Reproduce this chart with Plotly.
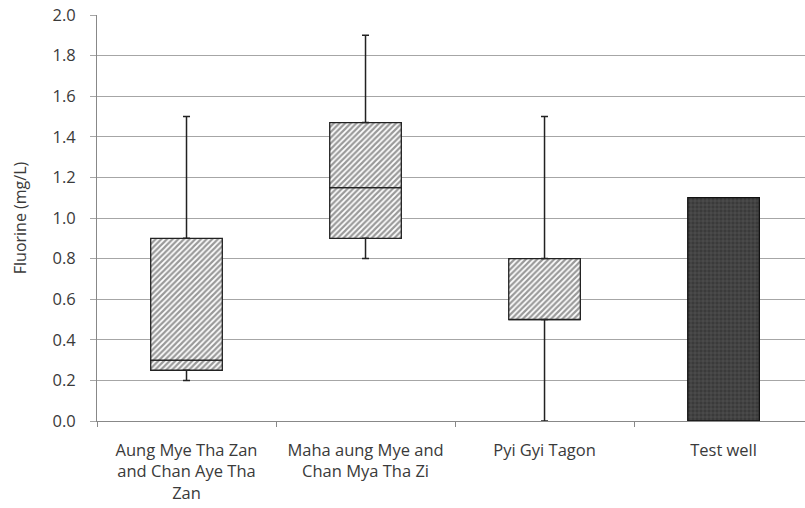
import plotly.graph_objects as go

categories = ["Aung Mye Tha Zan<br>and Chan Aye Tha<br>Zan",
              "Maha aung Mye and<br>Chan Mya Tha Zi",
              "Pyi Gyi Tagon",
              "Test well"]
box_cats = categories[:3]
mins = [0.2, 0.8, 0.0]
q1 = [0.25, 0.9, 0.5]
medians = [0.3, 1.15, 0.5]
q3 = [0.9, 1.47, 0.8]
maxs = [1.5, 1.9, 1.5]
test_well_value = [1.1]
y_ticks = [0.0, 0.2, 0.4, 0.6, 0.8, 1.0, 1.2, 1.4, 1.6, 1.8, 2.0]

font = "Open Sans"
txt = "#3a3a3a"
fig = go.Figure()

hatch = dict(shape="/", fgcolor="#333333", bgcolor="white", size=4, solidity=0.55, fillmode="overlay")
edge = dict(color="#222", width=1.3)

# upper whiskers
fig.add_trace(go.Scatter(
    x=box_cats, y=q3, mode="markers",
    marker=dict(size=1, color="rgba(0,0,0,0)"),
    error_y=dict(type="data", array=[b - a for a, b in zip(q3, maxs)], arrayminus=[0]*3,
                 color="#222", thickness=1.5, width=3.5),
    showlegend=False, hoverinfo="skip"))
# lower whiskers
fig.add_trace(go.Scatter(
    x=box_cats, y=q1, mode="markers",
    marker=dict(size=1, color="rgba(0,0,0,0)"),
    error_y=dict(type="data", array=[0]*3, arrayminus=[a - b for a, b in zip(q1, mins)],
                 color="#222", thickness=1.5, width=3.5),
    showlegend=False, hoverinfo="skip"))

# lower box half
fig.add_trace(go.Bar(
    x=box_cats, base=q1, y=[m - a for a, m in zip(q1, medians)], width=0.4,
    marker=dict(color="white", pattern=hatch, line=edge),
    showlegend=False))
# upper box half
fig.add_trace(go.Bar(
    x=box_cats, base=medians, y=[b - m for m, b in zip(medians, q3)], width=0.4,
    marker=dict(color="white", pattern=hatch, line=edge),
    showlegend=False))
# test well
fig.add_trace(go.Bar(
    x=[categories[3]], base=[0], y=test_well_value, width=0.4,
    marker=dict(color="#3a3a3a",
                pattern=dict(shape="+", fgcolor="#7a7a7a", bgcolor="#3a3a3a", size=4, solidity=0.25, fillmode="overlay"),
                line=dict(color="#111", width=1.3)),
    showlegend=False))

fig.update_layout(
    width=805, height=508,
    margin=dict(l=97, r=0, t=15, b=87),
    paper_bgcolor="white", plot_bgcolor="white",
    barmode="overlay",
    font=dict(family=font, size=16, color=txt),
    xaxis=dict(
        categoryorder="array", categoryarray=categories,
        range=[-0.5, 3.455],
        showgrid=False, showline=True, linecolor="#888", linewidth=1,
        ticks="outside", tickson="boundaries", ticklen=5, tickcolor="#888",
        ticklabelstandoff=14,
        tickfont=dict(family=font, size=16.5, color=txt),
    ),
    yaxis=dict(
        range=[0, 2.0], tickvals=y_ticks, tickformat=".1f",
        showgrid=True, gridcolor="#a6a6a6", gridwidth=1,
        showline=True, linecolor="#888", linewidth=1,
        ticks="outside", ticklen=6, tickcolor="#a6a6a6",
        ticklabelstandoff=11,
        zeroline=False,
        tickfont=dict(family=font, size=16.5, color=txt),
        title=dict(text="Fluorine (mg/L)", font=dict(family=font, size=16, color=txt), standoff=21),
    ),
)

fig.write_html("out.html")
